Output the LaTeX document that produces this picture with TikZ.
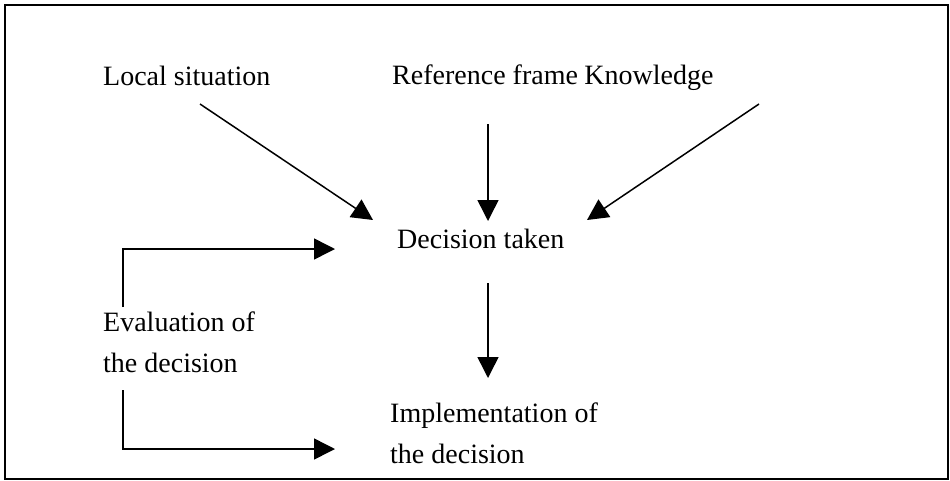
\documentclass[tikz,border=0pt]{standalone}
\usepackage{fontspec}
\setmainfont{Liberation Serif}
\usetikzlibrary{positioning,arrows.meta,calc}
\tikzset{
  lbl/.style={inner sep=0pt, anchor=base west, align=left, font=\fontsize{28}{41}\selectfont},
  arr/.style={line width=1.5pt, -{Triangle[length=21pt,width=21pt]}},
  frm/.style={line width=2pt},
  node distance=7pt
}

\begin{document}
\begin{tikzpicture}[x=1pt,y=-1pt]
	\useasboundingbox (0,0) rectangle (950,480);
	\draw[frm] (5,5) rectangle (948,479);
	%
	\node[lbl] (local) at (103,85) {Local situation};
	\node[lbl] (refframe) at (392,84) {Reference frame};
	\node[lbl, base right=6pt of refframe] (knowledge) {Knowledge};
	\node[lbl] (decision) at (397,248) {Decision taken};
	\node[lbl] (evaluation) at (103,372) {Evaluation of\\the decision};
	\node[lbl] (implement) at (390,463) {Implementation of\\the decision};
	%
	\coordinate (localout) at (200,104);
	\coordinate (refout) at (488,124);
	\coordinate (knowout) at (759,104);
	\coordinate (decin1) at (373,220);
	\coordinate (decin2) at (488,221);
	\coordinate (decin3) at (587,220);
	\coordinate (decout) at (488,283);
	\coordinate (impin) at (488,378);
	\coordinate (evalup) at (123,307);
	\coordinate (evaldown) at (123,390);
	\coordinate (fbup) at (335,249);
	\coordinate (fbdown) at (335,449);
	%
	\draw[arr] (localout) -- (decin1);
	\draw[arr] (refout) -- (decin2);
	\draw[arr] (knowout) -- (decin3);
	\draw[arr] (decout) -- (impin);
	\draw[arr] (evalup) |- (fbup);
	\draw[arr] (evaldown) |- (fbdown);
\end{tikzpicture}
\end{document}
